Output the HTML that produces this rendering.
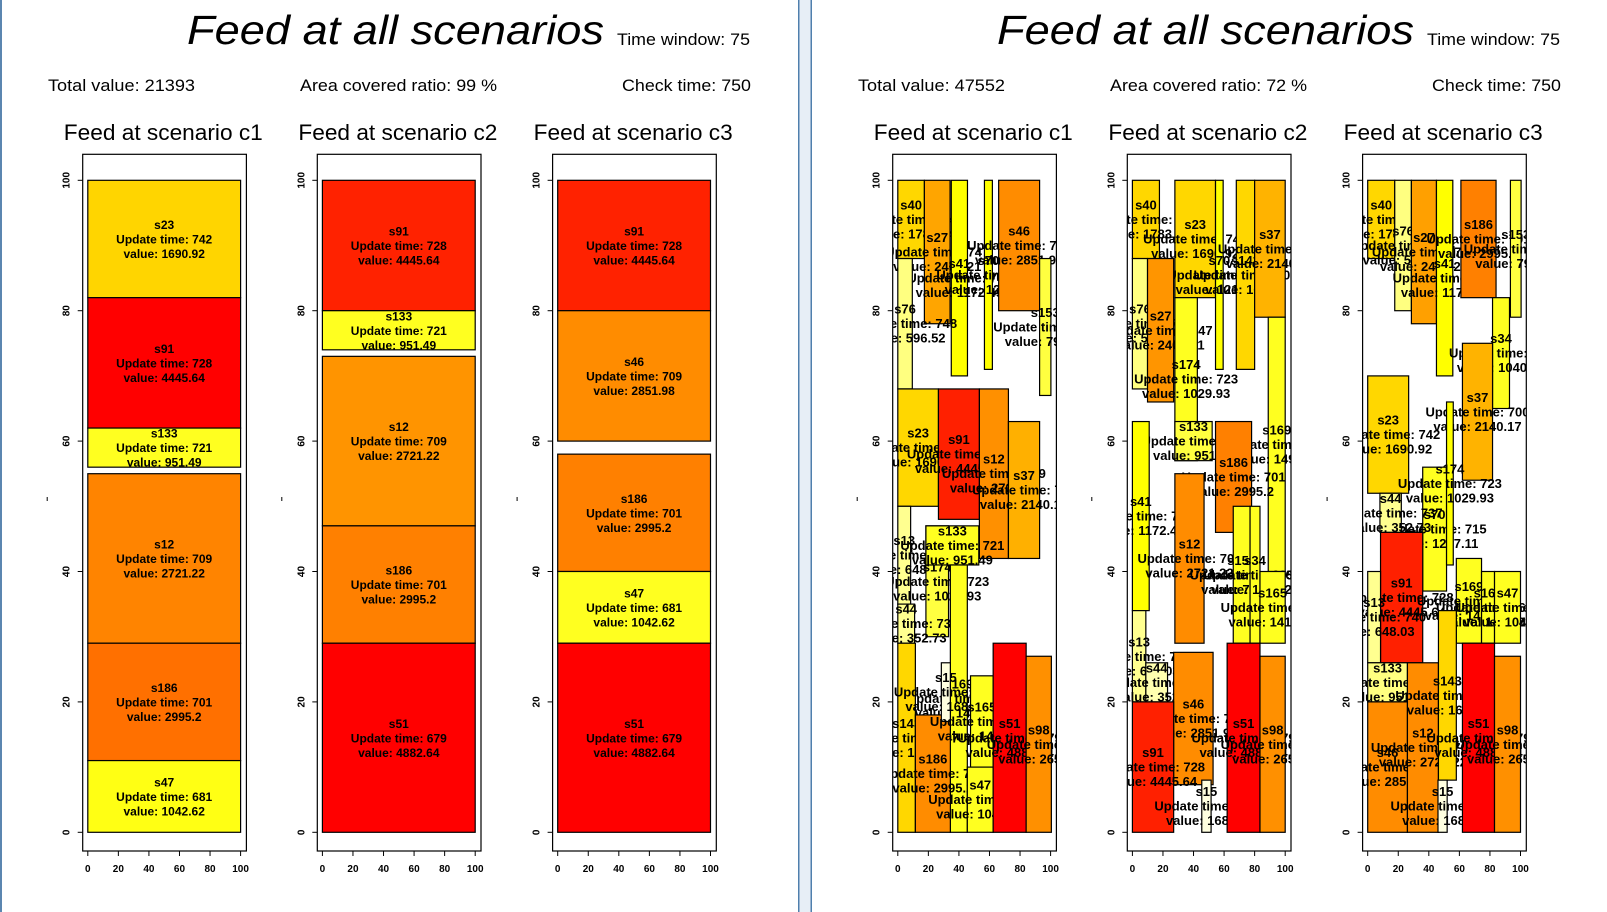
<!DOCTYPE html>
<html><head><meta charset="utf-8"><style>
html,body{margin:0;padding:0;background:#fff;width:1607px;height:912px;overflow:hidden}
svg{display:block;font-family:"Liberation Sans",Arial,sans-serif}
</style></head><body>
<svg id="root" width="1607" height="912" viewBox="0 0 1607 912">
<rect x="0" y="0" width="2" height="912" fill="#5b86b0"/>
<rect x="798" y="0" width="14" height="912" fill="#e7eef6"/>
<rect x="798" y="0" width="1.5" height="912" fill="#4f7fad"/>
<rect x="810.5" y="0" width="1.5" height="912" fill="#4f7fad"/>
<g id="charts"></g>
</svg>
<script>
// ---------- data ----------
const headerTotals = ['21393','47552'];
const headerRatios = ['99','72'];
const checkTime = '750';
const timeWindow = '75';

// Left panel, scenario c1
const L1_names=['s23','s91','s133','s12','s186','s47'];
const L1_x0=[0,0,0,0,0,0];
const L1_x1=[100,100,100,100,100,100];
const L1_y0=[82,62,56,29,11,0];
const L1_y1=[100,82,62,55,29,11];
const L1_times=['742','728','721','709','701','681'];
const L1_vals=['1690.92','4445.64','951.49','2721.22','2995.2','1042.62'];
const L1_cols=['#FFD500','#FF0000','#FFFF20','#FF8400','#FF7000','#FFFF14'];
// Left panel, scenario c2
const L2_names=['s91','s133','s12','s186','s51'];
const L2_x0=[0,0,0,0,0];
const L2_x1=[100,100,100,100,100];
const L2_y0=[80,74,47,29,0];
const L2_y1=[100,80,73,47,29];
const L2_times=['728','721','709','701','679'];
const L2_vals=['4445.64','951.49','2721.22','2995.2','4882.64'];
const L2_cols=['#FF2200','#FFFF20','#FF9400','#FF8000','#FF0000'];
// Left panel, scenario c3
const L3_names=['s91','s46','s186','s47','s51'];
const L3_x0=[0,0,0,0,0];
const L3_x1=[100,100,100,100,100];
const L3_y0=[80,60,40,29,0];
const L3_y1=[100,80,58,40,29];
const L3_times=['728','709','701','681','679'];
const L3_vals=['4445.64','2851.98','2995.2','1042.62','4882.64'];
const L3_cols=['#FF2200','#FF8C00','#FF8000','#FFFF20','#FF0000'];

// Right panel, scenario c1
const R1_names=['s40','s27','s41','s70','s46','s76','s153','s23','s91','s12','s37','s13','s174','s133','s44','s169','s143','s186','s15','s165','s47','s51','s98'];
const R1_x0=[0,17.4,35,56.7,66,0,92.8,0,26.6,53.4,72.4,0,18.4,18.4,0,34.4,0,11.5,28.5,47.6,45.5,62.4,84];
const R1_x1=[17.4,34.2,45.6,61.9,92.8,9.5,100.2,26.6,53.4,72.4,92.8,8.4,33.2,53,11,45.5,11.5,34.4,34.4,62.4,62.4,84,100.5];
const R1_y0=[88,78,70,71,80,68,67,50,48,42,42,35,30,41,29,0,0,0,17,10,0,0,0];
const R1_y1=[100,100,100,100,100,88,88,68,68,68,63,50,47,47,35,41,29,18,26,24,10,29,27];
const R1_times=['749','747','746','715','709','748','705','742','728','709','700','740','723','721','737','697','707','701','703','690','681','679','678'];
const R1_vals=['1783.34','2401.21','1172.45','1217.11','2851.98','596.52','798.53','1690.92','4445.64','2721.22','2140.17','648.03','1029.93','951.49','352.73','1496.41','1600.2','2995.2','168.37','1415.22','1042.62','4882.64','2651.4'];
const R1_cols=['#FFD700','#FFA500','#FFFF00','#FFFF00','#FF8C00','#FFFF80','#FFFF40','#FFD700','#FF2000','#FF9000','#FFB000','#FFFF90','#FFFF40','#FFFF20','#FFFF90','#FFFF20','#FFD700','#FF8C00','#FFFFE0','#FFFF20','#FFFF20','#FF0000','#FF9000'];

// Right panel, scenario c2
const R2_names=['s40','s23','s70','s143','s37','s76','s27','s174','s133','s169','s186','s41','s12','s153','s34','s165','s13','s44','s46','s91','s15','s51','s98'];
const R2_x0=[0,27.8,54.4,68,80,0,9.9,27.8,27.8,88.9,54.4,0,27.8,66,77,83.5,0,8.8,27,0,45.4,62,83.5];
const R2_x1=[17.7,54.4,59.4,80,100,9.9,27,42.5,52.2,100,78,11,46.9,77,83.5,100,8.8,23,52.8,27,51.5,83.5,100];
const R2_y0=[88,82,71,71,79,68,66,57,57,40,46,34,29,29,29,29,20,20,7.3,0,0,0,0];
const R2_y1=[100,100,100,100,100,88,88,82,63,79,63,63,55,50,50,40,34,26,27.6,20,8,29,27];
const R2_times=['749','742','715','707','700','748','747','723','721','697','701','746','709','695','696','690','740','737','709','728','703','679','678'];
const R2_vals=['1783.34','1690.92','1217.11','1600.2','2140.17','596.52','2401.21','1029.93','951.49','1496.41','2995.2','1172.45','2721.22','798.53','1040.29','1415.22','648.03','352.73','2851.98','4445.64','168.37','4882.64','2651.4'];
const R2_cols=['#FFD700','#FFD700','#FFFF00','#FFD700','#FFB300','#FFFF80','#FF9500','#FFFF20','#FFFF40','#FFFF20','#FF8000','#FFFF00','#FF8C00','#FFFF20','#FFFF20','#FFFF20','#FFFF90','#FFFFB0','#FF8C00','#FF2000','#FFFFE0','#FF0000','#FF9000'];

// Right panel, scenario c3
const R3_names=['s40','s76','s27','s41','s186','s153','s34','s37','s23','s70','s174','s44','s91','s169','s165','s47','s13','s133','s46','s12','s143','s15','s51','s98'];
const R3_x0=[0,17.7,28.6,45,61,93.4,81.7,62,0,36,51.6,8,8.4,58,74.5,83,0,0,0,26,46.3,46,62,83];
const R3_x1=[17.7,28.6,45,55.7,84,100.4,92.8,81.7,26.8,51.6,56,22,36,74.5,83,100,8.4,26,26,46.3,58,52,83,100];
const R3_y0=[88,80,78,70,82,79,65,54,52,37,41,46,26,29,29,29,26,20,0,0,8,0,0,0];
const R3_y1=[100,100,100,100,100,100,82,75,70,56,66,52,46,42,40,40,40,26,20,26,34,8,29,27];
const R3_times=['749','748','747','746','701','705','696','700','742','715','723','737','728','697','690','681','740','721','709','709','707','703','679','678'];
const R3_vals=['1783.34','596.52','2401.21','1172.45','2995.2','798.53','1040.29','2140.17','1690.92','1217.11','1029.93','352.73','4445.64','1496.41','1415.22','1042.62','648.03','951.49','2851.98','2721.22','1600.2','168.37','4882.64','2651.4'];
const R3_cols=['#FFD700','#FFFF80','#FFA000','#FFFF00','#FF8000','#FFFF40','#FFFF20','#FFB300','#FFD700','#FFFF20','#FFFF00','#FFFF90','#FF2000','#FFFF20','#FFFF20','#FFFF20','#FFFF90','#FFFF80','#FF8C00','#FF8C00','#FFD700','#FFFFE0','#FF0000','#FF9000'];

const xTicks=[0,20,40,60,80,100];
const yTicks=[0,20,40,60,80,100];

// ---------- drawing ----------
const NS='http://www.w3.org/2000/svg';
const root=document.getElementById('charts');
function mk(tag,attrs,parent){const e=document.createElementNS(NS,tag);for(const k in attrs)e.setAttribute(k,attrs[k]);(parent||root).appendChild(e);return e;}
const PLOT_X0=[87.8,322.4,557.7];
const XSCALE=1.528, Y0=832.3, YSCALE=6.52;

function header(off,i){
  let t=mk('text',{x:off+187,y:44,'font-size':41,'font-style':'italic',textLength:417,lengthAdjust:'spacingAndGlyphs'});
  t.textContent='Feed at all scenarios';
  
  
  t=mk('text',{x:off+617,y:45,'font-size':17,textLength:133,lengthAdjust:'spacingAndGlyphs'});
  t.textContent='Time window: '+timeWindow;
  
  
  t=mk('text',{x:off+48,y:91,'font-size':17,textLength:147,lengthAdjust:'spacingAndGlyphs'});
  t.textContent='Total value: '+headerTotals[i];
  
  
  t=mk('text',{x:off+300,y:91,'font-size':17,textLength:197,lengthAdjust:'spacingAndGlyphs'});
  t.textContent='Area covered ratio: '+headerRatios[i]+' %';
  
  
  t=mk('text',{x:off+622,y:91,'font-size':17,textLength:129,lengthAdjust:'spacingAndGlyphs'});
  t.textContent='Check time: '+checkTime;
  
  
}

let clipId=0;
function chart(off,k,title,names,x0,x1,y0,y1,times,vals,cols){
  const px0=off+PLOT_X0[k];
  const sx=v=>px0+v*XSCALE;
  const sy=v=>Y0-v*YSCALE;
  const fsz = off>0 ? 13 : 12;
  const g=mk('g',{});
  
  
  let t=mk('text',{x:px0-24,y:140,'font-size':22,textLength:199,lengthAdjust:'spacingAndGlyphs'},g);
  t.textContent=title;
  
  
  const fx=px0-5.1, fy=154.3, fw=163.7, fh=696.7;
  const cid='clip'+(clipId++);
  const cp=mk('clipPath',{id:cid},g);
  mk('rect',{x:fx,y:fy,width:fw,height:fh},cp);
  const pg=mk('g',{'clip-path':'url(#'+cid+')'},g);
  for(let i=0;i<names.length;i++){
    const r=mk('rect',{x:sx(x0[i]),y:sy(y1[i]),width:sx(x1[i])-sx(x0[i]),height:sy(y0[i])-sy(y1[i]),fill:cols[i],stroke:'#000','stroke-width':1.2},pg);
    
    
    const cx=(sx(x0[i])+sx(x1[i]))/2, cy=(sy(y0[i])+sy(y1[i]))/2;
    const lines=[names[i],'Update time: '+times[i],'value: '+vals[i]];
    for(let j=0;j<3;j++){
      const tt=mk('text',{x:cx,y:cy+(j-1)*14.5+4.5,'font-size':fsz,'font-weight':'bold','text-anchor':'middle',fill:'#000'},pg);
      tt.textContent=lines[j];
      
      
    }
  }
  const fr=mk('rect',{x:fx,y:fy,width:fw,height:fh,fill:'none',stroke:'#000','stroke-width':1.2},g);
  
  
  const xa=mk('line',{x1:sx(xTicks[0]),x2:sx(xTicks[xTicks.length-1]),y1:fy+fh,y2:fy+fh,stroke:'#000'},g);
  
  
  xTicks.forEach(v=>{
    mk('line',{x1:sx(v),x2:sx(v),y1:fy+fh,y2:fy+fh+5,stroke:'#000'},g);
    const l=mk('text',{x:sx(v),y:872,'font-size':10,'font-weight':'bold','text-anchor':'middle'},g);
    l.textContent=String(v);
    
    
  });
  yTicks.forEach(v=>{
    mk('line',{x1:fx,x2:fx-5,y1:sy(v),y2:sy(v),stroke:'#000'},g);
    const l=mk('text',{x:0,y:0,'font-size':10,'font-weight':'bold','text-anchor':'middle',transform:'translate('+(fx-13)+','+sy(v)+') rotate(-90)'},g);
    l.textContent=String(v);
    
    
  });
  const ym=mk('rect',{x:fx-36,y:497,width:1,height:4,fill:'#000'},g);
  
  
}

header(0,0);
chart(0,0,'Feed at scenario c1',L1_names,L1_x0,L1_x1,L1_y0,L1_y1,L1_times,L1_vals,L1_cols);
chart(0,1,'Feed at scenario c2',L2_names,L2_x0,L2_x1,L2_y0,L2_y1,L2_times,L2_vals,L2_cols);
chart(0,2,'Feed at scenario c3',L3_names,L3_x0,L3_x1,L3_y0,L3_y1,L3_times,L3_vals,L3_cols);
header(810,1);
chart(810,0,'Feed at scenario c1',R1_names,R1_x0,R1_x1,R1_y0,R1_y1,R1_times,R1_vals,R1_cols);
chart(810,1,'Feed at scenario c2',R2_names,R2_x0,R2_x1,R2_y0,R2_y1,R2_times,R2_vals,R2_cols);
chart(810,2,'Feed at scenario c3',R3_names,R3_x0,R3_x1,R3_y0,R3_y1,R3_times,R3_vals,R3_cols);
</script>
</body></html>
